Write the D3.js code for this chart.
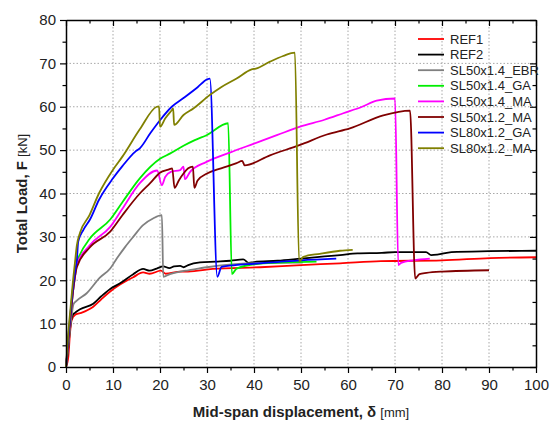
<!DOCTYPE html>
<html>
<head>
<meta charset="utf-8">
<script src="https://cdn.jsdelivr.net/npm/d3@7"></script>
<style>
  html, body { margin: 0; padding: 0; background: #fff; }
  svg { display: block; font-family: "Liberation Sans", Arial, sans-serif; }
</style>
</head>
<body>
<svg id="chart" width="551" height="425"></svg>
<script>
// ---------- data ----------
const seriesNames = ["REF1", "REF2", "SL50x1.4_EBR", "SL50x1.4_GA", "SL50x1.4_MA", "SL50x1.2_MA", "SL80x1.2_GA", "SL80x1.2_MA"];
const seriesColors = ["#ff0000", "#000000", "#808080", "#00ee00", "#ff00ff", "#800000", "#0000ff", "#808000"];

const ref1 = [[0,0],[0.5,2.4],[0.85,7.8],[1.2,10.8],[1.9,12],[3,12.4],[5.8,13.9],[7.5,15.6],[9.4,17.4],[11.5,19],[14.3,20.7],[16.4,21.8],[17.8,21.5],[20.2,22.2],[21.2,21.5],[24.3,22],[26,22],[31.2,22.6],[41.3,23],[50,23.5],[58.3,23.9],[67,24.4],[80,24.6],[90.2,25.1],[100,25.3]];
const ref2 = [[0,0],[0.5,4.7],[0.85,8.8],[1.4,11.9],[1.9,12.5],[3,13.3],[5.8,14.6],[7.5,16.3],[9.4,18],[11.5,19.3],[14.3,21.4],[16.4,22.6],[17.8,22.2],[19.3,22.7],[20.7,23.2],[22,22.8],[23,23.2],[24.3,23.3],[25,23],[26,23.5],[28.5,24.1],[31.9,24.3],[35,24.5],[37.7,24.8],[38.9,24],[40,24.2],[45,24.5],[50,25],[55,25.5],[58.3,25.8],[62,26.2],[67.2,26.3],[70,26.5],[76.6,26.5],[77.7,25.8],[79,25.9],[82,26.5],[90,26.7],[100,26.8]];
const ebr = [[0,0],[0.5,5],[1,10],[1.6,14.5],[2.3,15.3],[4.4,17],[7.2,20.6],[9.4,22.7],[10.8,25],[12.6,27.7],[14.3,30],[16.4,32.7],[18.6,34.3],[20.4,35],[20.7,20.8],[22.1,21.4],[24.3,22],[26,22.3],[30,23],[38.4,23.9],[45,24],[50.4,24.1]];
const ga14 = [[0,0],[0.5,6],[1,12],[1.5,17.5],[2,21.5],[2.3,24],[3,26],[5,29.5],[9.4,34],[12,38],[15.7,43.5],[20,48],[22.1,49.2],[25,51],[27.4,52.3],[30,53.5],[34.5,56.2],[35.3,21.4],[36.3,22.7],[42,23.9],[53.3,24.3]];
const ma14 = [[0,0],[0.5,6],[1,12],[1.5,17.5],[2,21.5],[2.3,23.5],[5,28],[9.4,32.3],[12,36.5],[15.7,42.4],[19.4,45.3],[20.4,41.9],[21.1,43.8],[22.3,45],[24.3,45.4],[25,46.2],[25.3,43.3],[26.4,45],[29.9,47.3],[35,49.5],[40,51.5],[45,53.5],[49.8,55.4],[55,57],[59,58.5],[63,60],[66.1,61.4],[70,61.9],[70.7,23.5],[71.3,24],[73.9,24.6],[77.4,25]];
const ma12 = [[0,0],[0.5,6],[1,12],[1.5,17.5],[2,21.5],[2.3,23],[5,27.5],[9.4,31.2],[12,35],[15.7,40],[18,42.5],[20,44.8],[21.8,45.5],[22.6,45.8],[23.1,41.3],[24,43],[25,44.6],[26,45.8],[27,46.2],[27.3,41.3],[28,43],[30,44.6],[33,45.8],[36.3,47],[37.5,47.5],[38,46.5],[43.4,48.8],[49.8,51.2],[55.5,53.6],[60.4,55],[67.5,58],[73.2,59.1],[74.3,20.4],[75.2,21.4],[76.7,21.7],[80,22],[90,22.3]];
const ga12 = [[0,0],[0.5,7],[1,13],[1.5,18.5],[2,22.5],[2.3,24.5],[2.6,28.9],[3.7,31.6],[5.1,34],[7,38.5],[10,43.5],[12,46.3],[14.7,49.6],[15.7,50.4],[18,54],[20,56.9],[22.5,60],[25,62],[28,64.5],[30,66.3],[30.6,66.5],[32.2,20.8],[33.1,23.1],[36,23.5],[40,23.8],[45,24.2],[50,24.6],[57.5,25]];
const ma80 = [[0,0],[0.5,8],[1,14],[1.5,20],[1.9,24],[2.3,28],[3,31],[5,35],[7,40],[10,45.5],[12,48.5],[15.7,54.8],[19.3,60],[19.8,60.1],[20,55.4],[21.1,57.3],[22.5,59.2],[22.8,59.6],[23,55.8],[25,58.1],[27.1,59.6],[30.6,62.7],[33,64.5],[36.3,66.5],[39.5,68.6],[40.4,68.8],[43.4,70.4],[46.2,71.7],[48.7,72.5],[49.6,24.3],[50.5,25.4],[54,26.1],[58.3,26.8],[61,27]];
const seriesData = [ref1, ref2, ebr, ga14, ma14, ma12, ga12, ma80];

const xTicks = [0,10,20,30,40,50,60,70,80,90,100];
const yTicks = [0,10,20,30,40,50,60,70,80];
const xMinor = [5,15,25,35,45,55,65,75,85,95];
const yMinor = [5,15,25,35,45,55,65,75];

// ---------- layout ----------
const svg = d3.select("#chart");
const L = 66, R = 536, T = 20, B = 367;
const x = d3.scaleLinear().domain([0,100]).range([L,R]);
const y = d3.scaleLinear().domain([0,80]).range([B,T]);

// grid
const grid = svg.append("g");
grid.selectAll(".vg").data(xTicks.filter(d => d > 0 && d < 100)).join("line")
  .attr("x1", d => x(d)).attr("x2", d => x(d)).attr("y1", T).attr("y2", B)
  .attr("stroke", "#a8a8a8").attr("stroke-width", 1).attr("stroke-dasharray", "1.5,2");
grid.selectAll(".hg").data(yTicks.filter(d => d > 0 && d < 80)).join("line")
  .attr("x1", L).attr("x2", R).attr("y1", d => y(d)).attr("y2", d => y(d))
  .attr("stroke", "#a8a8a8").attr("stroke-width", 1).attr("stroke-dasharray", "1.5,2");

// curves
const line = d3.line().x(d => x(d[0])).y(d => y(d[1])).curve(d3.curveMonotoneX);
const curves = svg.append("g");
seriesData.forEach((s, i) => {
  curves.append("path").datum(s).attr("d", line)
    .attr("fill", "none").attr("stroke", seriesColors[i])
    .attr("stroke-width", 1.8).attr("stroke-linejoin", "round");
});

// axes
const tickStyle = g => {
  g.select(".domain").attr("stroke", "#000").attr("stroke-width", 1.5);
  g.selectAll(".tick line").attr("stroke", "#000").attr("stroke-width", 1.2);
};
const bottomAxis = svg.append("g").attr("transform", `translate(0,${B})`)
  .call(d3.axisBottom(x).tickValues(xTicks).tickSize(6).tickPadding(6).tickSizeOuter(0));
bottomAxis.call(tickStyle);
bottomAxis.selectAll("text").attr("font-size", 15).attr("fill", "#222");
svg.append("g").attr("transform", `translate(0,${B})`)
  .call(d3.axisBottom(x).tickValues(xMinor).tickSize(3.5).tickFormat(""))
  .call(tickStyle).select(".domain").remove();

const leftAxis = svg.append("g").attr("transform", `translate(${L},0)`)
  .call(d3.axisLeft(y).tickValues(yTicks).tickSize(6).tickPadding(4).tickSizeOuter(0));
leftAxis.call(tickStyle);
leftAxis.selectAll("text").attr("font-size", 15).attr("fill", "#222");
svg.append("g").attr("transform", `translate(${L},0)`)
  .call(d3.axisLeft(y).tickValues(yMinor).tickSize(3.5).tickFormat(""))
  .call(tickStyle).select(".domain").remove();

const topAxis = svg.append("g").attr("transform", `translate(0,${T})`)
  .call(d3.axisBottom(x).tickValues(xTicks).tickSize(6).tickFormat("").tickSizeOuter(0));
topAxis.call(tickStyle);
svg.append("g").attr("transform", `translate(0,${T})`)
  .call(d3.axisBottom(x).tickValues(xMinor).tickSize(3.5).tickFormat(""))
  .call(tickStyle).select(".domain").remove();

const rightAxis = svg.append("g").attr("transform", `translate(${R},0)`)
  .call(d3.axisLeft(y).tickValues(yTicks).tickSize(6).tickFormat("").tickSizeOuter(0));
rightAxis.call(tickStyle);
svg.append("g").attr("transform", `translate(${R},0)`)
  .call(d3.axisLeft(y).tickValues(yMinor).tickSize(3.5).tickFormat(""))
  .call(tickStyle).select(".domain").remove();

// axis titles
const xt = svg.append("text").attr("x", (L + R) / 2).attr("y", 417)
  .attr("text-anchor", "middle").attr("fill", "#222");
xt.append("tspan").attr("font-size", 15).attr("font-weight", "bold").text("Mid-span displacement, δ ");
xt.append("tspan").attr("font-size", 13).text("[mm]");

const yt = svg.append("text").attr("transform", `translate(27,${(T + B) / 2}) rotate(-90)`)
  .attr("text-anchor", "middle").attr("fill", "#222");
yt.append("tspan").attr("font-size", 15).attr("font-weight", "bold").text("Total Load, F ");
yt.append("tspan").attr("font-size", 13).text("[kN]");

// legend
const lg = svg.append("g").attr("transform", "translate(418,39)");
seriesNames.forEach((n, i) => {
  const gy = i * 15.6;
  lg.append("line").attr("x1", 0).attr("x2", 26).attr("y1", gy).attr("y2", gy)
    .attr("stroke", seriesColors[i]).attr("stroke-width", 1.8);
  lg.append("text").attr("x", 32).attr("y", gy + 4.5).attr("font-size", 13)
    .attr("fill", "#222").text(n);
});
</script>
</body>
</html>
